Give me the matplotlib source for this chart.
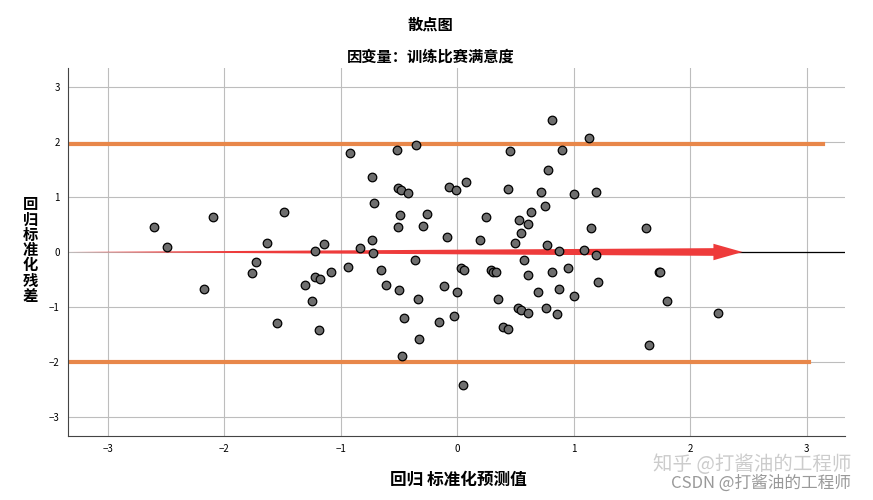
import matplotlib
matplotlib.use("Agg")
import matplotlib.pyplot as plt

plt.rcParams['font.family'] = ['Noto Sans CJK SC', 'DejaVu Sans']

pred = [-2.60,-2.49,-2.10,-2.17,-1.49,-1.63,-1.73,-1.76,-1.55,-1.31,-1.25,-1.22,-1.22,-1.18,-1.14,-1.08,-1.19,
        -0.94,-0.92,-0.83,-0.73,-0.71,-0.73,-0.72,-0.65,-0.61,-0.52,-0.51,-0.48,-0.42,-0.49,-0.51,-0.50,-0.46,-0.47,
        -0.35,-0.36,-0.34,-0.33,-0.26,-0.29,-0.16,-0.09,-0.11,-0.07,-0.03,
        -0.01,0.08,0.00,0.03,0.06,0.05,0.25,0.20,0.29,0.31,0.33,0.35,0.39,0.44,0.45,0.44,0.50,0.53,0.55,0.61,0.63,
        0.57,0.61,0.52,0.55,0.61,0.69,0.72,0.75,0.78,0.81,0.77,0.81,0.76,0.87,0.87,0.86,0.90,0.95,1.00,1.00,1.09,
        1.13,1.15,1.19,1.19,1.21,1.62,1.73,1.74,1.80,1.65,2.24]
resid = [0.45,0.10,0.64,-0.68,0.73,0.17,-0.19,-0.39,-1.30,-0.60,-0.90,0.01,-0.46,-0.50,0.15,-0.37,-1.42,
         -0.28,1.80,0.08,1.37,0.89,0.21,-0.02,-0.33,-0.60,1.86,1.16,1.13,1.07,0.68,0.46,-0.70,-1.21,-1.90,
         1.94,-0.15,-0.86,-1.58,0.69,0.48,-1.28,0.28,-0.62,1.19,-1.16,
         1.13,1.28,-0.73,-0.30,-0.33,-2.42,0.64,0.22,-0.33,-0.36,-0.37,-0.86,-1.36,-1.40,1.84,1.14,0.16,0.59,0.34,0.51,0.73,
         -0.14,-0.41,-1.02,-1.05,-1.11,-0.73,1.10,0.84,1.50,2.40,0.12,-0.37,-1.02,0.02,-0.67,-1.13,1.85,-0.29,1.05,-0.81,0.04,
         2.08,0.44,1.10,-0.06,-0.55,0.44,-0.37,-0.37,-0.90,-1.69,-1.11]

ref_upper, ref_lower = 1.96, -2.01
ticks = [-3, -2, -1, 0, 1, 2, 3]

fig = plt.figure(figsize=(8.73, 5.0), dpi=100)
ax = fig.add_axes([0.078, 0.128, 0.89, 0.736])
ax.set_xlim(-3.34, 3.33)
ax.set_ylim(-3.35, 3.35)
ax.set_xticks(ticks); ax.set_yticks(ticks)
ax.tick_params(length=0, labelsize=7, pad=6)
ax.grid(True, color='#BDBDBD', linewidth=0.8)
ax.set_axisbelow(True)
for s in ['top', 'right']:
    ax.spines[s].set_visible(False)
for s in ['left', 'bottom']:
    ax.spines[s].set_color('#444444')

ax.plot([-3.34, 3.14], [ref_upper]*2, color='#E8874A', lw=3, zorder=2)
ax.plot([-3.34, 3.02], [ref_lower]*2, color='#E8874A', lw=3, zorder=2)
ax.plot([2.3, 3.33], [0, 0], color='black', lw=0.9, zorder=2)
ax.fill([-3.34, 2.2, 2.2, 2.45, 2.2, 2.2, -3.34],
        [0.0, 0.07, 0.15, 0.0, -0.15, -0.07, 0.0], color='#EE3B3B', zorder=2, lw=0)

ax.scatter(pred, resid, s=38, c='#6E6E6E', edgecolors='black', linewidths=0.9, zorder=3)

fig.text(0.493, 0.95, '散点图', ha='center', va='center', fontsize=11, fontweight='bold')
fig.text(0.493, 0.886, '因变量：训练比赛满意度', ha='center', va='center', fontsize=11, fontweight='bold')
fig.text(0.525, 0.04, '回归 标准化预测值', ha='center', va='center', fontsize=12, fontweight='bold')
fig.text(0.035, 0.5, '\n'.join('回归标准化残差'), ha='center', va='center', fontsize=11,
         fontweight='bold', linespacing=0.95)
fig.text(0.975, 0.072, '知乎 @打酱油的工程师', ha='right', va='center', fontsize=14, color='#CCCCCC')
fig.text(0.975, 0.034, 'CSDN @打酱油的工程师', ha='right', va='center', fontsize=12, color='#999999')

fig.savefig('out.png', dpi=100)
